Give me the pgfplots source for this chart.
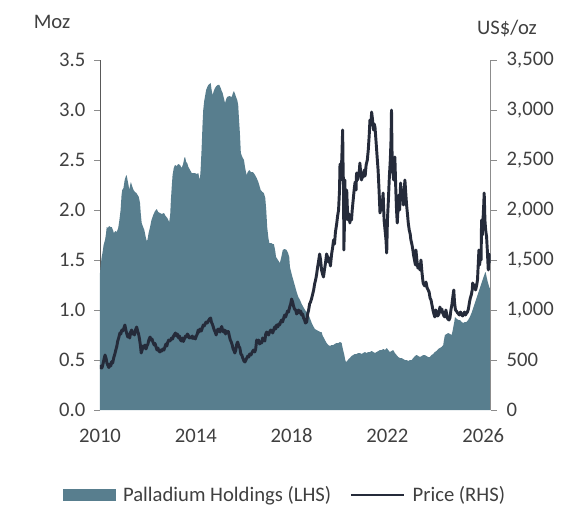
\documentclass[border=0pt]{standalone}
\usepackage{pgfplots}
\pgfplotsset{compat=1.18}
\usepackage{fontspec}
\setmainfont{Carlito}
\definecolor{areac}{HTML}{587E8E}
\definecolor{linec}{HTML}{252B3A}
\definecolor{txt}{HTML}{404040}
\definecolor{axc}{HTML}{8C8C8C}
\definecolor{axl}{HTML}{595959}
\newcommand{\fs}{\fontsize{15.5}{18.6}\selectfont}
\pgfplotsset{
  common/.style={
    scale only axis, width=293pt, height=262.5pt,
    at={(0pt,0pt)}, anchor=south west,
    xmin=2010, xmax=2026.31,
    tick align=outside, major tick length=4.5pt,
    tick label style={font=\fs, color=txt},
    /pgf/number format/assume math mode=true,
  }
}
\begin{document}
\begin{tikzpicture}
\useasboundingbox (-75pt,-78.75pt) rectangle (360.75pt,307.5pt);
\begin{axis}[common,
  ymin=0, ymax=3.5, ytick={0,0.5,1,1.5,2,2.5,3,3.5},
  yticklabel style={xshift=-3pt, /pgf/number format/fixed, /pgf/number format/fixed zerofill, /pgf/number format/precision=1},
  axis y line*=left, axis x line*=bottom,
  x axis line style={draw=none},
  y axis line style={draw=axl},
  ytick style={draw=axc},
  xtick={2010,2014,2018,2022,2026},
  xticklabel style={yshift=-6pt, /pgf/number format/1000 sep={}},
  xtick style={draw=none},
]
\addplot[fill=areac, draw=none] coordinates {
(2010.00,1.37)(2010.03,1.45)(2010.07,1.53)(2010.11,1.58)(2010.15,1.65)(2010.21,1.70)(2010.25,1.76)(2010.28,1.83)
(2010.33,1.82)(2010.38,1.84)(2010.44,1.83)(2010.49,1.83)(2010.54,1.80)(2010.58,1.77)(2010.64,1.79)(2010.70,1.78)
(2010.76,1.82)(2010.81,1.90)(2010.86,2.00)(2010.90,2.15)(2010.93,2.20)(2010.98,2.22)(2011.03,2.30)(2011.07,2.33)
(2011.11,2.35)(2011.15,2.30)(2011.19,2.25)(2011.22,2.20)(2011.26,2.25)(2011.29,2.28)(2011.34,2.24)(2011.40,2.20)
(2011.46,2.18)(2011.52,2.17)(2011.57,2.15)(2011.62,2.13)(2011.67,2.07)(2011.70,1.97)(2011.74,1.87)(2011.80,1.83)
(2011.85,1.80)(2011.90,1.74)(2011.95,1.69)(2011.98,1.70)(2012.03,1.77)(2012.09,1.83)(2012.15,1.90)(2012.22,1.95)
(2012.30,1.99)(2012.37,2.01)(2012.43,1.98)(2012.50,1.97)(2012.58,1.96)(2012.67,1.97)(2012.74,1.94)(2012.81,1.92)
(2012.89,1.88)(2012.93,1.95)(2012.96,2.10)(2013.00,2.25)(2013.03,2.35)(2013.08,2.42)(2013.13,2.45)(2013.20,2.44)
(2013.27,2.46)(2013.34,2.45)(2013.41,2.42)(2013.47,2.46)(2013.52,2.52)(2013.55,2.53)(2013.60,2.48)(2013.64,2.47)
(2013.69,2.43)(2013.76,2.40)(2013.83,2.37)(2013.95,2.37)(2014.05,2.36)(2014.10,2.37)(2014.17,2.30)(2014.20,2.40)
(2014.24,2.60)(2014.28,2.85)(2014.31,3.00)(2014.35,3.09)(2014.38,3.13)(2014.43,3.20)(2014.48,3.23)(2014.52,3.25)
(2014.57,3.26)(2014.62,3.27)(2014.66,3.20)(2014.70,3.15)(2014.75,3.19)(2014.80,3.22)(2014.86,3.24)(2014.92,3.25)
(2014.98,3.25)(2015.04,3.22)(2015.08,3.19)(2015.12,3.17)(2015.17,3.12)(2015.22,3.07)(2015.27,3.11)(2015.31,3.13)
(2015.40,3.14)(2015.50,3.13)(2015.55,3.17)(2015.59,3.19)(2015.64,3.16)(2015.68,3.13)(2015.73,3.10)(2015.77,3.05)
(2015.80,2.92)(2015.84,2.77)(2015.88,2.57)(2015.94,2.53)(2016.01,2.50)(2016.06,2.42)(2016.12,2.35)(2016.17,2.38)
(2016.23,2.40)(2016.30,2.38)(2016.37,2.38)(2016.42,2.37)(2016.47,2.35)(2016.54,2.32)(2016.61,2.28)(2016.66,2.24)
(2016.71,2.20)(2016.78,2.18)(2016.84,2.17)(2016.90,2.12)(2016.94,2.00)(2016.98,1.83)(2017.03,1.72)(2017.07,1.67)
(2017.15,1.67)(2017.21,1.66)(2017.26,1.66)(2017.31,1.60)(2017.35,1.53)(2017.43,1.50)(2017.51,1.47)(2017.57,1.53)
(2017.63,1.60)(2017.71,1.61)(2017.79,1.60)(2017.85,1.57)(2017.90,1.53)(2017.93,1.43)(2018.00,1.36)(2018.07,1.30)
(2018.14,1.24)(2018.21,1.18)(2018.28,1.13)(2018.35,1.10)(2018.42,1.06)(2018.49,1.03)(2018.56,1.00)(2018.63,0.98)
(2018.69,0.97)(2018.76,0.92)(2018.84,0.87)(2018.90,0.84)(2018.97,0.81)(2019.04,0.80)(2019.12,0.79)(2019.20,0.78)
(2019.25,0.78)(2019.30,0.74)(2019.35,0.72)(2019.39,0.70)(2019.46,0.67)(2019.53,0.65)(2019.60,0.64)(2019.67,0.65)
(2019.74,0.65)(2019.80,0.66)(2019.87,0.67)(2019.95,0.67)(2020.02,0.68)(2020.09,0.67)(2020.12,0.63)(2020.15,0.60)
(2020.20,0.55)(2020.24,0.50)(2020.27,0.48)(2020.32,0.49)(2020.38,0.51)(2020.43,0.52)(2020.50,0.54)(2020.57,0.55)
(2020.64,0.56)(2020.71,0.56)(2020.78,0.57)(2020.85,0.57)(2020.92,0.56)(2020.99,0.57)(2021.06,0.58)(2021.13,0.57)
(2021.20,0.58)(2021.27,0.58)(2021.34,0.59)(2021.41,0.58)(2021.48,0.57)(2021.55,0.58)(2021.62,0.59)(2021.69,0.60)
(2021.76,0.60)(2021.83,0.61)(2021.90,0.60)(2021.97,0.62)(2022.03,0.60)(2022.10,0.58)(2022.17,0.59)(2022.24,0.60)
(2022.31,0.57)(2022.38,0.55)(2022.45,0.53)(2022.52,0.52)(2022.59,0.52)(2022.66,0.51)(2022.73,0.50)(2022.80,0.50)
(2022.87,0.49)(2022.94,0.50)(2023.01,0.50)(2023.08,0.52)(2023.15,0.54)(2023.22,0.55)(2023.29,0.54)(2023.36,0.53)
(2023.43,0.54)(2023.50,0.55)(2023.56,0.55)(2023.63,0.54)(2023.70,0.53)(2023.77,0.53)(2023.84,0.55)(2023.91,0.56)
(2023.98,0.58)(2024.05,0.59)(2024.12,0.61)(2024.19,0.62)(2024.26,0.63)(2024.33,0.65)(2024.36,0.70)(2024.40,0.75)
(2024.47,0.76)(2024.54,0.77)(2024.61,0.76)(2024.68,0.75)(2024.72,0.79)(2024.75,0.83)(2024.79,0.88)(2024.82,0.93)
(2024.90,0.91)(2024.97,0.90)(2025.03,0.90)(2025.10,0.88)(2025.16,0.87)(2025.23,0.88)(2025.30,0.88)(2025.37,0.90)
(2025.44,0.93)(2025.51,0.97)(2025.58,1.02)(2025.65,1.07)(2025.72,1.12)(2025.79,1.17)(2025.86,1.22)(2025.93,1.27)
(2026.00,1.32)(2026.07,1.37)(2026.10,1.38)(2026.14,1.33)(2026.19,1.28)(2026.25,1.23)(2026.31,1.20)
} \closedcycle;
\end{axis}
\begin{axis}[common,
  ymin=0, ymax=3500, ytick={0,500,1000,1500,2000,2500,3000,3500},
  yticklabel style={xshift=4pt, /pgf/number format/fixed, /pgf/number format/1000 sep={,}},
  axis y line*=right, axis x line=none,
  y axis line style={draw=axc},
  ytick style={draw=axc},
  legend style={draw=none, fill=none, at={(0.4748,-0.2429)}, anchor=center,
    font=\fs, text=txt,
    /tikz/every odd column/.append style={column sep=3.5pt},
    /tikz/every even column/.append style={column sep=12pt}},
  legend columns=2, legend cell align=left,
]
\addlegendimage{legend image code/.code={\fill[areac] (0pt,-4.1pt) rectangle (39pt,4.1pt);}}
\addlegendentry{Palladium Holdings (LHS)}
\addplot[linec, line width=2.2pt, line join=round, mark=none,
  legend image code/.code={\draw[linec, line width=1.5pt] (0pt,0pt) -- (40pt,0pt);}] coordinates {
(2010.00,410)(2010.04,440)(2010.08,420)(2010.12,455)(2010.16,500)(2010.21,550)(2010.25,520)(2010.29,470)
(2010.33,445)(2010.37,425)(2010.41,460)(2010.45,440)(2010.49,485)(2010.53,470)(2010.57,520)(2010.62,560)
(2010.66,600)(2010.70,635)(2010.74,690)(2010.78,720)(2010.83,770)(2010.87,760)(2010.91,800)(2010.95,790)
(2011.00,820)(2011.04,850)(2011.08,800)(2011.12,760)(2011.16,730)(2011.20,760)(2011.24,720)(2011.28,780)
(2011.32,800)(2011.36,760)(2011.40,780)(2011.44,750)(2011.48,800)(2011.53,830)(2011.57,790)(2011.61,760)
(2011.65,710)(2011.69,640)(2011.72,570)(2011.76,600)(2011.80,640)(2011.84,620)(2011.88,650)(2011.92,610)
(2011.96,640)(2012.00,660)(2012.04,700)(2012.09,730)(2012.13,700)(2012.17,710)(2012.21,680)(2012.26,650)
(2012.30,665)(2012.34,630)(2012.38,600)(2012.42,620)(2012.46,590)(2012.50,580)(2012.54,600)(2012.58,590)
(2012.62,610)(2012.67,600)(2012.71,630)(2012.75,660)(2012.79,640)(2012.83,680)(2012.87,700)(2012.91,690)
(2012.95,700)(2012.99,720)(2013.03,710)(2013.07,740)(2013.11,755)(2013.15,770)(2013.19,740)(2013.23,760)
(2013.28,720)(2013.32,740)(2013.36,700)(2013.40,690)(2013.44,720)(2013.48,685)(2013.52,710)(2013.57,740)
(2013.61,730)(2013.65,760)(2013.69,745)(2013.73,720)(2013.77,730)(2013.81,720)(2013.85,740)(2013.89,715)
(2013.94,730)(2013.98,710)(2014.02,740)(2014.06,760)(2014.10,800)(2014.14,780)(2014.18,810)(2014.23,790)
(2014.27,820)(2014.31,850)(2014.35,840)(2014.39,860)(2014.43,880)(2014.48,870)(2014.52,890)(2014.57,910)
(2014.62,920)(2014.65,880)(2014.69,860)(2014.73,830)(2014.77,800)(2014.81,780)(2014.85,750)(2014.89,790)
(2014.93,810)(2014.97,790)(2015.01,780)(2015.05,820)(2015.08,835)(2015.12,800)(2015.16,780)(2015.20,800)
(2015.24,760)(2015.28,790)(2015.32,770)(2015.36,785)(2015.40,740)(2015.44,700)(2015.48,680)(2015.52,650)
(2015.56,610)(2015.60,590)(2015.63,570)(2015.67,600)(2015.71,660)(2015.75,680)(2015.79,640)(2015.84,620)
(2015.88,560)(2015.92,550)(2015.96,520)(2016.01,490)(2016.05,480)(2016.09,500)(2016.13,520)(2016.17,540)
(2016.21,530)(2016.25,560)(2016.30,550)(2016.34,570)(2016.38,590)(2016.42,600)(2016.46,580)(2016.50,610)
(2016.54,700)(2016.58,680)(2016.62,700)(2016.66,660)(2016.71,680)(2016.75,670)(2016.79,720)(2016.83,700)
(2016.88,690)(2016.92,760)(2016.96,780)(2017.00,760)(2017.04,750)(2017.08,780)(2017.13,800)(2017.17,790)
(2017.21,770)(2017.25,800)(2017.29,830)(2017.33,810)(2017.37,850)(2017.42,830)(2017.46,860)(2017.50,850)
(2017.54,880)(2017.58,900)(2017.62,880)(2017.67,920)(2017.71,950)(2017.75,930)(2017.79,960)(2017.83,990)
(2017.87,980)(2017.92,1030)(2017.96,1060)(2018.00,1110)(2018.04,1080)(2018.08,1040)(2018.12,1010)(2018.17,1000)
(2018.21,960)(2018.25,980)(2018.29,1000)(2018.33,970)(2018.38,990)(2018.42,950)(2018.46,960)(2018.50,920)
(2018.54,900)(2018.58,870)(2018.63,880)(2018.67,960)(2018.71,1000)(2018.75,1060)(2018.79,1080)(2018.83,1110)
(2018.87,1150)(2018.92,1200)(2018.96,1260)(2019.00,1300)(2019.04,1350)(2019.08,1420)(2019.12,1480)(2019.17,1560)
(2019.21,1500)(2019.25,1400)(2019.29,1360)(2019.33,1330)(2019.37,1400)(2019.42,1480)(2019.46,1560)(2019.50,1530)
(2019.54,1480)(2019.58,1520)(2019.62,1440)(2019.67,1560)(2019.71,1620)(2019.75,1700)(2019.79,1660)(2019.83,1780)
(2019.88,1860)(2019.92,1940)(2019.96,2000)(2020.00,2200)(2020.02,2460)(2020.06,2300)(2020.10,2550)(2020.13,2800)
(2020.15,2400)(2020.17,2200)(2020.18,1600)(2020.20,1800)(2020.22,2300)(2020.24,1900)(2020.27,2000)(2020.30,2200)
(2020.33,2000)(2020.36,1900)(2020.40,1960)(2020.43,1870)(2020.47,1950)(2020.50,1900)(2020.53,2000)(2020.57,2100)
(2020.61,2200)(2020.65,2280)(2020.69,2200)(2020.71,2370)(2020.75,2300)(2020.79,2350)(2020.83,2400)(2020.85,2470)
(2020.88,2380)(2020.92,2300)(2020.96,2350)(2020.99,2330)(2021.03,2400)(2021.07,2340)(2021.11,2450)(2021.16,2500)
(2021.20,2600)(2021.24,2750)(2021.27,2900)(2021.31,2850)(2021.34,2980)(2021.38,2900)(2021.42,2800)(2021.45,2860)
(2021.48,2830)(2021.52,2700)(2021.55,2600)(2021.57,2530)(2021.61,2400)(2021.65,2200)(2021.69,1970)(2021.73,2100)
(2021.77,2000)(2021.82,2170)(2021.86,1900)(2021.90,1800)(2021.94,1700)(2021.97,1570)(2022.00,1900)(2022.04,2100)
(2022.08,2330)(2022.12,2500)(2022.15,2700)(2022.17,3000)(2022.19,2600)(2022.22,2400)(2022.26,2300)(2022.31,2530)
(2022.35,2200)(2022.38,2000)(2022.41,1870)(2022.44,2000)(2022.48,2150)(2022.51,2000)(2022.55,2270)(2022.59,2100)
(2022.63,2200)(2022.67,2050)(2022.70,2200)(2022.73,2300)(2022.77,2150)(2022.80,2050)(2022.84,1950)(2022.87,1870)
(2022.91,1800)(2022.95,1760)(2022.98,1700)(2023.01,1670)(2023.05,1620)(2023.09,1550)(2023.13,1500)(2023.17,1450)
(2023.19,1600)(2023.23,1500)(2023.27,1420)(2023.31,1450)(2023.36,1400)(2023.40,1500)(2023.44,1380)(2023.49,1270)
(2023.53,1250)(2023.57,1240)(2023.61,1280)(2023.66,1220)(2023.70,1200)(2023.74,1180)(2023.78,1120)(2023.82,1100)
(2023.86,1050)(2023.90,1000)(2023.94,960)(2023.98,930)(2024.02,1000)(2024.06,970)(2024.10,940)(2024.15,960)
(2024.19,1030)(2024.23,980)(2024.27,1010)(2024.31,970)(2024.36,940)(2024.40,930)(2024.44,1000)(2024.48,950)
(2024.52,910)(2024.57,900)(2024.61,920)(2024.65,1000)(2024.69,1050)(2024.73,1130)(2024.77,1200)(2024.80,1080)
(2024.84,1000)(2024.88,990)(2024.93,970)(2024.97,960)(2025.01,950)(2025.05,980)(2025.09,960)(2025.14,940)
(2025.18,960)(2025.22,980)(2025.26,950)(2025.30,970)(2025.34,980)(2025.38,1010)(2025.42,1070)(2025.46,1120)
(2025.50,1150)(2025.54,1200)(2025.56,1270)(2025.60,1220)(2025.64,1250)(2025.68,1200)(2025.72,1240)(2025.76,1300)
(2025.80,1500)(2025.82,1600)(2025.85,1450)(2025.88,1550)(2025.91,1500)(2025.93,1900)(2025.96,1750)(2025.99,1900)
(2026.02,2050)(2026.04,2170)(2026.07,1900)(2026.10,1800)(2026.14,1730)(2026.17,1600)(2026.21,1400)(2026.24,1560)
(2026.27,1480)(2026.31,1530)
};
\addlegendentry{Price (RHS)}
\end{axis}
\node[font=\fs, text=txt, anchor=base] at (-36pt,286.3pt) {Moz};
\node[font=\fs, text=txt, anchor=base] at (305.25pt,281.25pt) {US\$/oz};
\end{tikzpicture}
\end{document}
